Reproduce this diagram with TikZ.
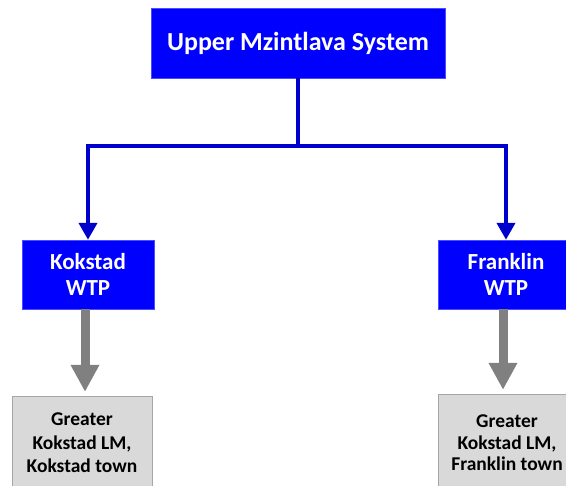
\documentclass[tikz,border=0pt]{standalone}
\usepackage{fontspec}
\setmainfont{Carlito}
\usetikzlibrary{arrows.meta}
\definecolor{boxblue}{RGB}{0,0,255}
\definecolor{lineblue}{RGB}{0,0,204}
\definecolor{greyfill}{RGB}{217,217,217}
\definecolor{greyline}{RGB}{166,166,166}
\definecolor{greyarrow}{RGB}{128,128,128}
\tikzset{
	bluebox/.style={draw=boxblue!70, fill=boxblue, text=white, font=\bfseries,
		align=center, inner sep=0pt},
	greybox/.style={draw=greyline, fill=greyfill, text=black, font=\bfseries,
		align=center, inner sep=0pt},
	feed/.style={draw=lineblue, line width=4pt,
		-{Triangle[width=18pt,length=17pt]}},
	supply/.style={draw=greyarrow, line width=9pt,
		-{Triangle[width=27pt,length=27pt]}, shorten >=4pt}
}
\begin{document}
\begin{tikzpicture}[x=1pt,y=-1pt]
	\useasboundingbox (0,0) rectangle (566,486);
	\clip (0,0) rectangle (566,486);
	% system at the top
	\node[bluebox, minimum width=294pt, minimum height=70pt,
		font=\fontsize{26}{30}\selectfont\bfseries] (ums) at (298,43)
		{Upper Mzintlava System};
	% treatment works
	\node[bluebox, minimum width=132pt, minimum height=69pt,
		font=\fontsize{23}{26}\selectfont\bfseries] (kwtp) at (88,274.5)
		{Kokstad\\WTP};
	\node[bluebox, minimum width=136pt, minimum height=69pt,
		font=\fontsize{23}{26}\selectfont\bfseries] (fwtp) at (506,274.5)
		{Franklin\\WTP};
	% supply areas
	\node[greybox, minimum width=140pt, minimum height=94pt,
		font=\fontsize{19.5}{23.5}\selectfont\bfseries] (karea) at (82,443)
		{Greater\\Kokstad LM,\\Kokstad town};
	\node[greybox, minimum width=138pt, minimum height=98pt,
		font=\fontsize{19.5}{21.5}\selectfont\bfseries] (farea) at (507,443)
		{Greater\\Kokstad LM,\\Franklin town};
	% connectors
	\coordinate (split) at (298,146);
	\draw[feed] (ums.south) -- (split) -| (kwtp.north);
	\draw[feed] (split) -| (fwtp.north);
	\draw[supply] ([xshift=-3pt]kwtp.south) -- ([xshift=3pt]karea.north);
	\draw[supply] ([xshift=-3pt]fwtp.south) -- ([xshift=-4pt]farea.north);
\end{tikzpicture}
\end{document}
